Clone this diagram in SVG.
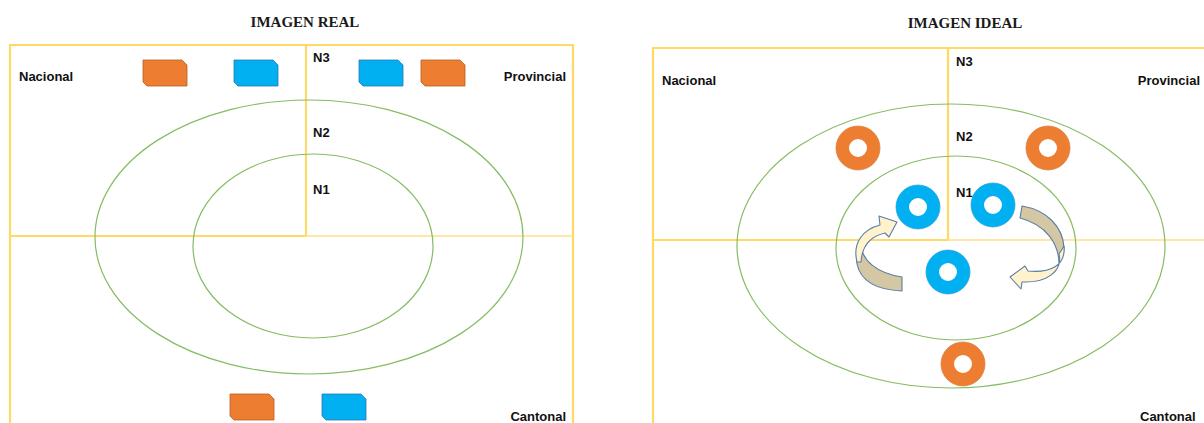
<svg xmlns="http://www.w3.org/2000/svg" width="1204" height="423" viewBox="0 0 1204 423">
<defs>
<style>
.title{font-family:"Liberation Serif","Times New Roman",serif;font-weight:bold;font-size:15px;fill:#1a1a1a;text-anchor:middle}
.lbl{font-family:"Liberation Sans",Arial,sans-serif;font-weight:bold;font-size:13px;fill:#111}
.frame{fill:none;stroke:#FFD966;stroke-width:2.2}
.thin{fill:none;stroke:#FFE08A;stroke-width:1.3}
.ell{fill:none;stroke:#86BC62;stroke-width:1.2}
.or{fill:#ED7D31;stroke:#B85E22;stroke-width:0.8}
.bl{fill:#00B0F0;stroke:#2E75B6;stroke-width:0.8}
.ring-o{fill:none;stroke:#ED7D31;stroke-width:13}
.ring-b{fill:none;stroke:#00B0F0;stroke-width:13}
.arr1{fill:#FFF2CC;stroke:#5A7EA6;stroke-width:1.1;stroke-linejoin:round}
.arr2{fill:#D3C7A4;stroke:#5A7EA6;stroke-width:1.1;stroke-linejoin:round}
</style>
<path id="card" d="M0,0 H39 L44,5 V26 H4 L0,22 Z"/>
</defs>

<g id="left-diagram">
<text class="title" x="305" y="27">IMAGEN REAL</text>
<g id="left-frame">
<path class="frame" d="M10,423 V45 H573 V423"/>
<path class="frame" d="M306,45 V236 H10"/>
<path class="thin" d="M306,236 H573"/>
</g>
<g id="left-rings">
<ellipse class="ell" cx="309" cy="237" rx="214" ry="137"/>
<ellipse class="ell" cx="313" cy="246" rx="120" ry="92"/>
</g>
<g id="left-labels">
<text class="lbl" x="19" y="81">Nacional</text>
<text class="lbl" x="566" y="81" text-anchor="end">Provincial</text>
<text class="lbl" x="313" y="62">N3</text>
<text class="lbl" x="313" y="137">N2</text>
<text class="lbl" x="313" y="194">N1</text>
<text class="lbl" x="566" y="421" text-anchor="end">Cantonal</text>
</g>
<g id="card-n-orange"><use href="#card" class="or" x="143" y="60"/></g>
<g id="card-n-blue"><use href="#card" class="bl" x="234" y="60"/></g>
<g id="card-p-blue"><use href="#card" class="bl" x="359" y="60"/></g>
<g id="card-p-orange"><use href="#card" class="or" x="421" y="60"/></g>
<g id="card-c-orange"><use href="#card" class="or" x="230" y="394"/></g>
<g id="card-c-blue"><use href="#card" class="bl" x="322" y="394"/></g>
</g>

<g id="right-diagram">
<text class="title" x="965" y="28">IMAGEN IDEAL</text>
<g id="right-frame">
<path class="frame" d="M653,423 V48 H1204"/>
<path class="frame" d="M948,48 V240 H653"/>
<path class="thin" d="M948,240 H1204"/>
</g>
<g id="right-rings">
<ellipse class="ell" cx="951" cy="246" rx="214" ry="142"/>
<ellipse class="ell" cx="956" cy="248" rx="120" ry="92"/>
</g>
<g id="right-labels">
<text class="lbl" x="662" y="85">Nacional</text>
<text class="lbl" x="1200" y="85" text-anchor="end">Provincial</text>
<text class="lbl" x="956" y="66">N3</text>
<text class="lbl" x="956" y="141">N2</text>
<text class="lbl" x="956" y="197">N1</text>
<text class="lbl" x="1140" y="421">Cantonal</text>
</g>
<g id="ring-o1"><circle cx="858" cy="148" r="22" fill="#fff" stroke="#B85E22" stroke-width="0.6"/><circle class="ring-o" cx="858" cy="148" r="15.5"/></g>
<g id="ring-o2"><circle cx="1048" cy="148" r="22" fill="#fff" stroke="#B85E22" stroke-width="0.6"/><circle class="ring-o" cx="1048" cy="148" r="15.5"/></g>
<g id="ring-o3"><circle cx="963" cy="364" r="22" fill="#fff" stroke="#B85E22" stroke-width="0.6"/><circle class="ring-o" cx="963" cy="364" r="15.5"/></g>
<g id="ring-b1"><circle cx="918" cy="207" r="22" fill="#fff" stroke="#2E75B6" stroke-width="0.6"/><circle class="ring-b" cx="918" cy="207" r="15.5"/></g>
<g id="ring-b2"><circle cx="993" cy="205" r="22" fill="#fff" stroke="#2E75B6" stroke-width="0.6"/><circle class="ring-b" cx="993" cy="205" r="15.5"/></g>
<g id="ring-b3"><circle cx="948" cy="272" r="22" fill="#fff" stroke="#2E75B6" stroke-width="0.6"/><circle class="ring-b" cx="948" cy="272" r="15.5"/></g>
</g>

<g id="connectors">
<g id="arrow-left">
<path class="arr2" d="M902,277 L902,291 C880,290 861,283 857,264 C856,255 858,249 861,245 C862,260 876,273 902,277 Z"/>
<path class="arr1" d="M857,262 C852,242 864,229 880,225 L879,216 L897,222 L889,237 L885,233 C872,236 862,245 861,262 Z"/>
</g>
<g id="arrow-right">
<path class="arr2" d="M1022,206 C1046,210 1063,226 1064,248 C1064,254 1062,258 1059,262 C1058,244 1047,225 1020,218 Z"/>
<path class="arr1" d="M1064,246 C1066,266 1050,273 1028,271 L1025,266 L1010,277 L1021,289 L1022,282 C1046,283 1063,272 1059,254 Z"/>
</g>
</g>
</svg>
